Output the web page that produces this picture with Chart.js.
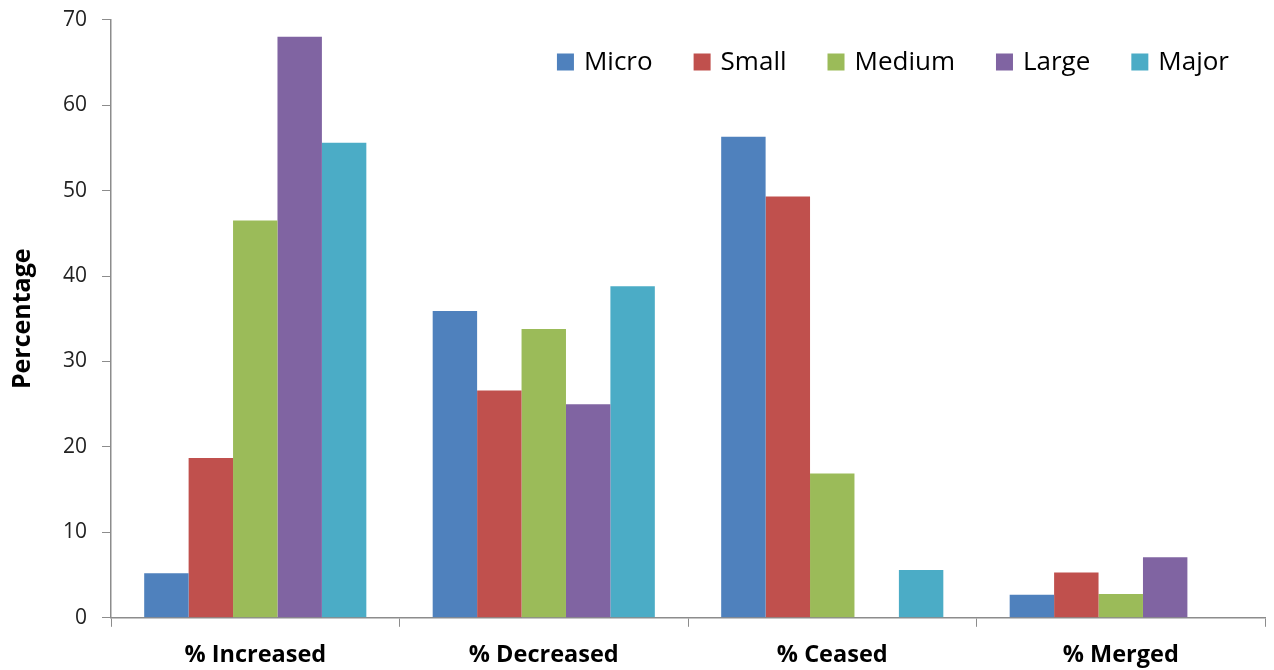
<!DOCTYPE html>
<html>
<head>
<meta charset="utf-8">
<script src="https://cdn.jsdelivr.net/npm/chart.js@4/dist/chart.umd.min.js"></script>
<style>
  html, body { margin: 0; padding: 0; background: #fff; }
  #wrap { width: 1274px; height: 670px; }
</style>
</head>
<body>
<div id="wrap"><canvas id="graficoMudanca"></canvas></div>
<script>
const categorias = ['% Increased', '% Decreased', '% Ceased', '% Merged']
const yTicks = [0, 10, 20, 30, 40, 50, 60, 70]

const micro = [5.2, 35.9, 56.3, 2.7]
const small = [18.7, 26.6, 49.3, 5.3]
const medium = [46.5, 33.8, 16.9, 2.8]
const large = [68.0, 25.0, 0, 7.1]
const major = [55.6, 38.8, 5.6, 0]

const cores = {
  Micro: '#4F81BD',
  Small: '#C0504D',
  Medium: '#9BBB59',
  Large: '#8064A2',
  Major: '#4BACC6'
}

function criaSerie(nome, valores) {
  return {
    label: nome,
    data: valores,
    backgroundColor: cores[nome],
    borderWidth: 0,
    barPercentage: 1,
    categoryPercentage: 0.77
  }
}

const corEixo = '#8c8c8c'
const fonte = '"Open Sans", "Liberation Sans", sans-serif'

// legenda desenhada por cima da área do gráfico, alinhada à direita
const legendaInterna = {
  id: 'legendaInterna',
  afterDraw(grafico) {
    const ctx = grafico.ctx
    const caixa = 17, respiro = 10, espaco = 41
    const direita = grafico.chartArea.right - 36
    const centroY = 62
    ctx.save()
    ctx.font = '26px ' + fonte
    ctx.textBaseline = 'middle'
    const itens = grafico.data.datasets.map(ds => ({
      nome: ds.label,
      cor: ds.backgroundColor,
      largura: ctx.measureText(ds.label).width
    }))
    let total = 0
    itens.forEach((it, i) => {
      total += caixa + respiro + it.largura + (i < itens.length - 1 ? espaco : 0)
    })
    let x = direita - total
    itens.forEach(it => {
      ctx.fillStyle = it.cor
      ctx.fillRect(x, centroY - caixa / 2, caixa, caixa)
      x += caixa + respiro
      ctx.fillStyle = '#000'
      ctx.fillText(it.nome, x, centroY + 1)
      x += it.largura + espaco
    })
    ctx.restore()
  }
}

const graficoMudanca = new Chart(document.getElementById('graficoMudanca'), {
  type: 'bar',
  data: {
    labels: categorias,
    datasets: [
      criaSerie('Micro', micro),
      criaSerie('Small', small),
      criaSerie('Medium', medium),
      criaSerie('Large', large),
      criaSerie('Major', major)
    ]
  },
  plugins: [legendaInterna],
  options: {
    responsive: true,
    maintainAspectRatio: false,
    animation: false,
    layout: { padding: { top: 0, right: 9, bottom: -13, left: 4 } },
    plugins: {
      tooltip: { enabled: false },
      legend: { display: false }
    },
    scales: {
      x: {
        grid: {
          offset: true,
          drawOnChartArea: false,
          color: corEixo,
          tickLength: 9
        },
        border: { color: corEixo, width: 1.5 },
        ticks: {
          color: '#000',
          font: { family: fonte, size: 23.5, weight: 'bold' },
          padding: 14
        }
      },
      y: {
        min: 0,
        max: 70,
        afterBuildTicks: eixo => { eixo.ticks = yTicks.map(v => ({ value: v })) },
        grid: {
          drawOnChartArea: false,
          color: corEixo,
          tickLength: 9
        },
        border: { color: corEixo, width: 1.5 },
        ticks: {
          color: '#222',
          font: { family: fonte, size: 21, lineHeight: 0.45 },
          padding: 15
        },
        title: {
          display: true,
          text: 'Percentage',
          color: '#000',
          font: { family: fonte, size: 25, weight: 'bold' },
          padding: { top: 4, bottom: 10 }
        }
      }
    }
  }
})
</script>
</body>
</html>
